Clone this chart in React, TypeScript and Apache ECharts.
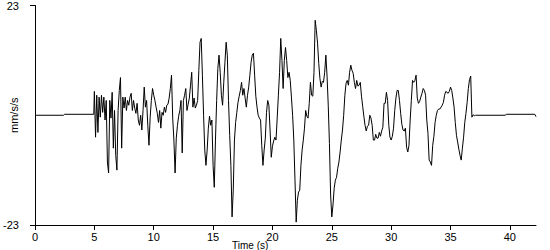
import React, { useEffect, useRef } from "react";
import * as echarts from "echarts";

// Quiet trace before the event: [time (s), acceleration (mm/s/s)]
const preEvent: [number, number][] = [
  [0, 0.2], [0.1, 0], [2.4, 0], [2.5, 0.2], [4.95, 0.2],
];

// Event samples, every 0.1 s starting at 5.0 s (mm/s/s)
const eventStart = 5.0;
const sampleStep = 0.1;
const eventSamples: number[] = [
  5.0, -4.6, 4.2, -3.6, 3.8, -0.4, 4.2, 0.6, 3.8, -1.0,
  3.1, -9.8, -12.1, 3.1, -0.6, 4.8, -6.9, 1.0, -8.4, -11.5,
  1.0, 5.2, 7.9, -6.9, 3.8, 1.5, 3.8, 1.0, 3.1, 2.1,
  3.8, 4.6, 1.0, 3.1, 1.5, 0.4, 2.5, -1.0, -2.1, 0,
  -3.1, 1.0, 5.9, 1.7, 3.1, -2.1, -6.3, -0.4, 3.1, 5.6,
  4.2, 3.1, 1.7, 0.4, -1.5, 1.0, -2.7, 0.6, 0, 1.7,
  0.6, 2.1, 2.3, 3.6, 5.6, 8.4, -0.6, -5.2, -12.1, -4.8,
  -2.1, -0.2, 1.0, 3.1, -7.9, 3.1, 4.2, 5.6, 1.0, 2.3,
  3.6, 6.3, 9.0, 1.7, 3.6, 1.5, 2.1, 3.1, 9.4, 15.3,
  16.1, 8.4, 0, -7.3, -10.5, -7.3, -2.7, -0.2, -2.1, -1.0,
  -10.5, -15.1, -5.2, 3.1, 9.8, 12.6, 9.0, 4.2, 2.1, 6.9,
  11.1, 15.3, 12.6, 3.1, -4.2, -10.5, -21.3, -15.7, -5.2, -1.5,
  0.6, 2.7, 4.0, 5.2, 6.9, 4.2, 5.6, 3.6, 1.7, 4.2,
  5.9, 8.4, 11.1, 12.6, 13.0, 8.4, 4.0, 1.7, 0, -0.6,
  -1.0, -6.3, -10.5, -7.3, -4.8, 0.6, 3.1, 2.1, -3.1, -8.8,
  -6.5, -5.4, -4.6, -5.2, -0.6, 4.2, 9.0, 16.1, 11.5, 5.6,
  11.5, 14.2, 11.5, 7.9, 9.0, 7.3, 3.8, 0, -5.2, -13.6,
  -22.4, -17.8, -16.1, -15.7, -10.5, -7.3, -5.2, -2.7, 1.0, -0.2,
  -0.6, 2.5, 6.9, 4.2, 4.0, 9.0, 19.9, 17.8, 15.1, 10.9,
  7.7, 5.9, 7.1, 6.9, 9.0, 12.6, 8.2, 2.1, -5.9, -16.7,
  -21.3, -18.8, -15.3, -13.6, -13.0, -11.1, -9.8, -7.7, -5.2, -3.1,
  0, 4.2, 6.7, 7.3, 6.3, 9.0, 10.5, 9.4, 8.8, 6.9,
  5.6, 7.3, 6.1, 6.3, 6.9, 4.0, 1.9, -0.2, -2.1, -3.3,
  -2.3, -2.1, 0, -0.6, -2.1, -5.2, -5.2, -4.0, -4.8, -4.8,
  -3.6, -4.4, -3.3, -2.5, 2.5, 2.5, 4.8, 3.1, -2.1, -4.6,
  -5.2, -4.4, -2.7, 1.0, 3.6, 5.2, 5.2, 3.1, 0.4, -1.9,
  -3.1, -3.3, -2.7, -6.7, -7.7, -6.3, -1.0, 3.1, 7.3, 6.9,
  7.3, 8.4, 3.6, 2.5, 2.9, 3.8, 4.6, 5.6, 5.2, 4.2,
  -1.0, -3.8, -9.4, -9.8, -10.5, -6.3, -4.4, -1.5, 0, 1.0,
  1.3, 1.3, 1.7, 2.1, 2.7, 4.2, 5.0, 4.8, 4.6, 5.0,
  5.9, 5.2, 3.6, 1.7, -1.5, -4.2, -5.6, -7.1, -8.4, -9.4,
  -6.9, -4.6, -1.5, 0.4, 2.7, 5.6, 7.5, 8.2, -0.4,
];

// Quiet trace after the event
const postEvent: [number, number][] = [
  [36.9, 0.1], [37.0, -0.1], [37.1, 0], [39.6, 0], [39.7, 0.2], [42.1, 0.2], [42.2, -0.3],
];

const yLimits = [-23, 23];
const xLimits = [0, 42.2];
const xTickStep = 5;

export default function App() {
  const ref = useRef<HTMLDivElement>(null);
  useEffect(() => {
    if (!ref.current) return;
    const chart = echarts.init(ref.current, undefined, { renderer: "svg" });
    const eventData: [number, number][] = eventSamples.map((v, i) => [
      +(eventStart + i * sampleStep).toFixed(2),
      v,
    ]);
    const data = [...preEvent, ...eventData, ...postEvent];
    const font = "'Liberation Sans', Arial, sans-serif";
    chart.setOption({
      animation: false,
      backgroundColor: "#ffffff",
      grid: { left: 35, right: 14, top: 5, bottom: 25, containLabel: false },
      xAxis: {
        type: "value",
        min: xLimits[0],
        max: xLimits[1],
        interval: xTickStep,
        axisLine: { show: true, onZero: false, lineStyle: { color: "#000", width: 1 } },
        axisTick: { show: true, length: 5, lineStyle: { color: "#000" } },
        axisLabel: {
          color: "#000",
          fontSize: 11,
          fontFamily: font,
          margin: 6,
          showMaxLabel: false,
        },
        splitLine: { show: false },
      },
      yAxis: {
        type: "value",
        min: yLimits[0],
        max: yLimits[1],
        interval: yLimits[1] - yLimits[0],
        axisLine: { show: true, onZero: false, lineStyle: { color: "#000", width: 1 } },
        axisTick: { show: true, length: 5, lineStyle: { color: "#000" } },
        axisLabel: { color: "#000", fontSize: 11, fontFamily: font, margin: 16 },
        splitLine: { show: false },
      },
      graphic: [
        {
          type: "text",
          left: 232,
          top: 240,
          style: { text: "Time (s)", fill: "#000", font: `10px ${font}` },
        },
        {
          type: "text",
          x: 8,
          y: 133,
          rotation: Math.PI / 2,
          style: { text: "mm/s/s", fill: "#000", font: `11px ${font}` },
        },
      ],
      series: [
        {
          type: "line",
          data,
          showSymbol: false,
          symbol: "none",
          lineStyle: { color: "#000", width: 1 },
        },
      ],
    });
    return () => chart.dispose();
  }, []);
  return (
    <div
      ref={ref}
      style={{ position: "absolute", left: 0, top: 0, width: 550, height: 250 }}
    />
  );
}
